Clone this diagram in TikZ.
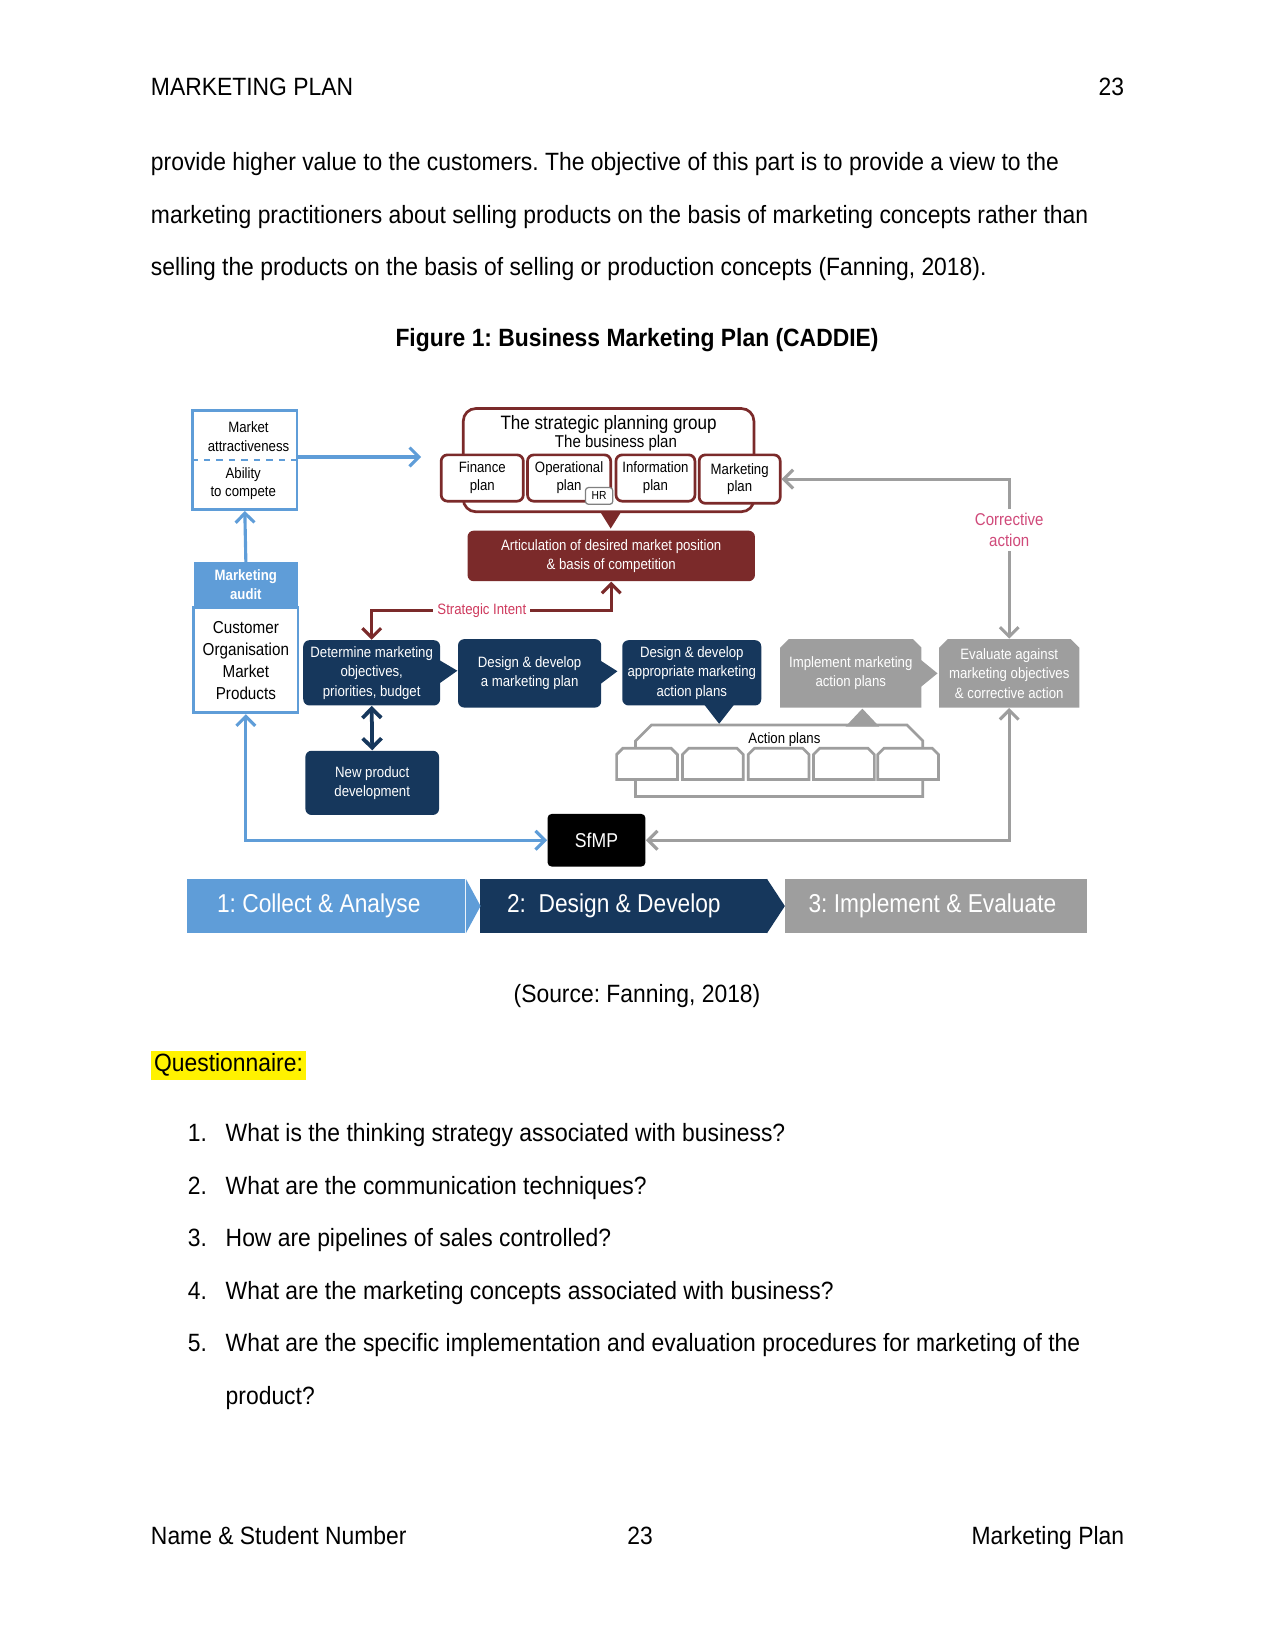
\documentclass[tikz,border=0pt]{standalone}
\usepackage{fontspec}
\setmainfont[FakeStretch=0.915]{Liberation Sans}
\newfontfamily\dgm[FakeStretch=0.88]{Liberation Sans}
\usetikzlibrary{arrows.meta,calc}
\frenchspacing

\definecolor{lblue}{HTML}{5F9DD8}
\definecolor{navy}{HTML}{16375C}
\definecolor{wine}{HTML}{7B2A2A}
\definecolor{mgrey}{HTML}{9E9E9E}
\definecolor{intent}{HTML}{CF3A5E}
\definecolor{corr}{HTML}{D04A7A}

\newcommand\pxu{0.50535pt}
\newcommand\dfont[2]{\dgm\fontsize{#1}{#2}\selectfont}
% outline with cut top corners round a named node
\newcommand\chamfer[3]{\filldraw[#3] (#1.south west) -- ($(#1.north west)+(0,#2)$) -- ($(#1.north west)+(#2,0)$)
  -- ($(#1.north east)+(-#2,0)$) -- ($(#1.north east)+(0,#2)$) -- (#1.south east) -- cycle;}

\begin{document}
\begin{tikzpicture}[x=0.50535pt,y=-0.50535pt,
  >={Straight Barb[length=4.5pt,width=9pt]},
  page/.style={font=\fontsize{12}{14}\selectfont,inner sep=0pt},
  sz/.style 2 args={minimum width=#1*\pxu,minimum height=#2*\pxu,inner sep=0pt,align=center},
  blueline/.style={lblue,line width=1.5pt},
  greyline/.style={mgrey,line width=1.5pt},
  wineline/.style={wine,line width=1.5pt},
  apline/.style={draw=mgrey,fill=white,line width=1.3pt},
  navybox/.style={fill=navy,rounded corners=3pt,text=white,font=\dfont{7.2}{9.3}},
  planbox/.style={draw=wine,fill=white,line width=1.3pt,rounded corners=3pt,font=\dfont{7.2}{8.6}},
  greybox/.style={text=white,font=\dfont{7.2}{9.3},
    path picture={\fill[mgrey] (path picture bounding box.south west)
      -- ($(path picture bounding box.north west)+(0,8)$) -- ($(path picture bounding box.north west)+(8,0)$)
      -- ($(path picture bounding box.north east)+(-8,0)$) -- ($(path picture bounding box.north east)+(0,8)$)
      -- (path picture bounding box.south east) -- cycle;}},
  band/.style={sz={#1}{51},text=white,font=\dfont{12.4}{14}},
]
\useasboundingbox (0,0) rectangle (1211,1568);

% page text
\node[page,anchor=base west] (hdl) at (143,91) {MARKETING PLAN};
\node[page,anchor=base east] (hdr) at (1068,91) {23};
\node[page,anchor=base west] (p1) at (143,162) {provide higher value to the customers. The objective of this part is to provide a view to the};
\node[page,anchor=base west] (p2) at (143,212) {marketing practitioners about selling products on the basis of marketing concepts rather than};
\node[page,anchor=base west] (p3) at (143,262) {selling the products on the basis of selling or production concepts (Fanning, 2018).};
\node[page,anchor=base] (cap) at (605,329) {\bfseries Figure 1: Business Marketing Plan (CADDIE)};

% collect & analyse
\node[sz={99}{94},draw=lblue,line width=1.3pt] (mkt) at (232.5,437) {};
\draw[lblue,line width=1pt,dashed] (mkt.west) -- (mkt.east);
\node[align=center,inner sep=0pt,font=\dfont{7.2}{9.1}] (mkta) at (236,415) {Market\\attractiveness};
\node[align=center,inner sep=0pt,font=\dfont{7.2}{8.6}] (mktb) at (231,459) {Ability\\to compete};
\node[sz={99}{100},draw=lblue,line width=1.3pt,font=\dfont{8.3}{10.6}] (audb) at (233.5,627) {Customer\\Organisation\\Market\\Products};
\node[sz={99}{43},fill=lblue,text=white,font=\dfont{7.2}{9.1}\bfseries] (audh) at (233.5,555.5) {Marketing\\audit};
\coordinate (spgin) at (400,434);
\draw[blueline,->] (audh.north) -- (mkt.south);
\draw[blueline,->] (mkt.east |- spgin) -- (spgin);

% strategic planning group
\node[sz={276}{98},draw=wine,line width=1.3pt,rounded corners=6pt] (spg) at (578,437) {};
\node[inner sep=0pt,font=\dfont{9.3}{11}] (spgt) at (578,403) {The strategic planning group};
\node[inner sep=0pt,font=\dfont{8.2}{10}] (spgb) at (585,421) {The business plan};
\node[planbox,sz={78}{44}] (fin) at (458,454) {Finance\\plan};
\node[planbox,sz={79}{44}] (ope) at (540.5,454) {Operational\\plan\hspace{1.2em}};
\node[planbox,sz={75}{44}] (inf) at (622.5,454) {Information\\plan};
\node[planbox,sz={77}{46}] (mkp) at (702.5,455) {Marketing\\plan};
\node[sz={26}{16},draw=gray,fill=white,line width=0.6pt,rounded corners=1.5pt,font=\dfont{5.6}{6}] (hr) at (569,471) {HR};
\fill[wine] (570,486) -- (590,486) -- (580,502) -- cycle;
\node[sz={273}{48},fill=wine,rounded corners=3pt,text=white,font=\dfont{7.2}{9.1}] (art) at (580.5,528) {Articulation of desired market position\\\& basis of competition};

% design & develop
\node[navybox,sz={130}{62}] (det) at (353,639) {Determine marketing\\objectives,\\priorities, budget};
\node[navybox,sz={136}{65}] (dmp) at (503,639.5) {Design \& develop\\a marketing plan};
\node[navybox,sz={132}{62}] (dap) at (657,639) {Design \& develop\\appropriate marketing\\action plans};
\node[navybox,sz={127}{61}] (npd) at (353.5,743.5) {New product\\development};
\fill[navy] ($(det.east)+(-1,-12)$) -- ($(det.east)+(16,-2)$) -- ($(det.east)+(-1,10)$) -- cycle;
\fill[navy] ($(dmp.east)+(-1,-12)$) -- ($(dmp.east)+(15,-2)$) -- ($(dmp.east)+(-1,10)$) -- cycle;
\fill[navy] ($(dap.south)+(12,-1)$) -- ($(dap.south)+(26,17)$) -- ($(dap.south)+(40,-1)$) -- cycle;
\draw[navy,line width=1.8pt,<->] (det.south) -- (npd.north);
\draw[wineline,<->] (det.north) -- ++(0,-28) -| node[pos=0.23,fill=white,inner sep=2pt,text=intent,font=\dfont{7.2}{9}] (sint) {Strategic Intent} (art.south);

% implement & evaluate
\node[greybox,sz={134}{65}] (imp) at (808,639.5) {Implement marketing\\action plans};
\node[greybox,sz={133}{65}] (eva) at (958.5,639.5) {Evaluate against\\marketing objectives\\\& corrective action};
\fill[mgrey] ($(imp.east)+(-1,-13)$) -- ($(imp.east)+(15,0)$) -- ($(imp.east)+(-1,13)$) -- cycle;
\node[sz={272}{67}] (apf) at (740,722.5) {};
\chamfer{apf}{15}{apline}
\fill[mgrey] (803,690) -- (835,690) -- (819,673) -- cycle;
\node[inner sep=0pt,font=\dfont{7.2}{9}] (apt) at (745,702) {Action plans};
\foreach \i/\x in {1/614.5,2/677,3/739.5,4/801.5,5/862.5}{
  \node[sz={57}{29}] (ap\i) at (\x,725.5) {};
  \chamfer{ap\i}{6}{apline}
}

\node[sz={93}{50},fill=black,rounded corners=2pt,text=white,font=\dfont{9.6}{11}] (sfmp) at (566.5,798) {SfMP};
\draw[blueline,<->] (audb.south) |- (sfmp.west);
\draw[greyline,<->] (sfmp.east) -| (eva.south);
\draw[greyline,<->] (mkp.east) -| node[pos=0.66,fill=white,inner sep=2pt,align=center,text=corr,font=\dfont{8.2}{10}] (cact) {Corrective\\action} (eva.north);

% phase bands
\node[band=264,fill=lblue] (b1) at (310,860.5) {\hspace{-7.3pt}1: Collect \& Analyse};
\node[band=272,fill=navy] (b2) at (592,860.5) {\hspace{-9.1pt}2:\ \ Design \& Develop};
\node[band=286,fill=mgrey] (b3) at (889,860.5) {\hspace{-3.5pt}3: Implement \& Evaluate};
\fill[lblue] (b1.north east) -- ($(b1.east)+(14,0)$) -- (b1.south east) -- cycle;
\fill[navy] (b2.north east) -- ($(b2.east)+(17,0)$) -- (b2.south east) -- cycle;

% source and questions
\node[page,anchor=base] (src) at (605,952) {(Source: Fanning, 2018)};
\node[page,anchor=base west,fill=yellow,inner sep=1.5pt] (qst) at (143,1018) {Questionnaire:};
\foreach \n/\t/\y in {1/What is the thinking strategy associated with business?/1084,
  2/What are the communication techniques?/1134,
  3/How are pipelines of sales controlled?/1184,
  4/What are the marketing concepts associated with business?/1234,
  5/What are the specific implementation and evaluation procedures for marketing of the/1284}
{
  \node[page,anchor=base west] (n\n) at (178,\y) {\n.};
  \node[page,anchor=base west] (q\n) at (214,\y) {\t};
}
\node[page,anchor=base west] (q5b) at (214,1334) {product?};

% footer
\node[page,anchor=base west] (fl) at (143,1467) {Name \& Student Number};
\node[page,anchor=base] (fc) at (608,1467) {23};
\node[page,anchor=base east] (fr) at (1068,1467) {Marketing Plan};
\end{tikzpicture}
\end{document}
